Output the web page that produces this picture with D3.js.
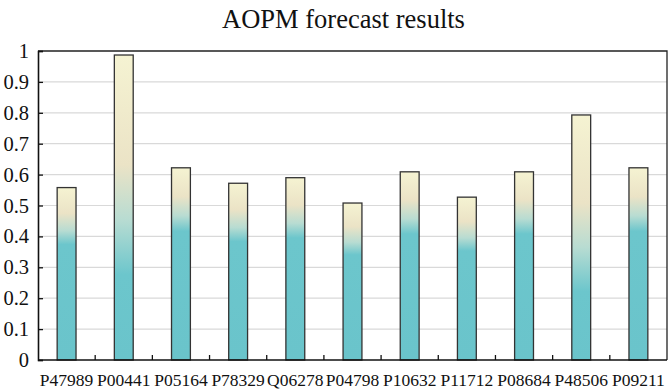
<!DOCTYPE html>
<html>
<head>
<meta charset="utf-8">
<script src="https://cdn.jsdelivr.net/npm/d3@7"></script>
<style>
  body { margin: 0; background: #fff; }
  text { font-family: "Liberation Serif", "Times New Roman", serif; }
</style>
</head>
<body>
<div id="chart-area"></div>
<script>
// chart data
const proteins = ["P47989", "P00441", "P05164", "P78329", "Q06278", "P04798",
                  "P10632", "P11712", "P08684", "P48506", "P09211"];
const forecastValues = [0.558, 0.987, 0.622, 0.572, 0.590, 0.508,
                        0.609, 0.527, 0.609, 0.793, 0.622];
const yTicks = [0, 0.1, 0.2, 0.3, 0.4, 0.5, 0.6, 0.7, 0.8, 0.9, 1];
const chartTitle = "AOPM forecast results";

let margin = { top: 51, right: 4, bottom: 32, left: 38 };
let width = 671 - margin.left - margin.right,
    height = 392 - margin.top - margin.bottom;

let svg = d3.select("#chart-area").append("svg")
    .attr("width", 671)
    .attr("height", 392);

// gradients - short bars switch colour near the top, tall ones lower down
let defs = svg.append("defs");
function addGradient(id, creamEnd, midAt, tealStart) {
    let g = defs.append("linearGradient")
        .attr("id", id)
        .attr("x1", 0).attr("y1", 0)
        .attr("x2", 0).attr("y2", 1);
    g.append("stop").attr("offset", 0).attr("stop-color", "#f5f3d2");
    g.append("stop").attr("offset", creamEnd).attr("stop-color", "#ebe3c6");
    g.append("stop").attr("offset", midAt).attr("stop-color", "#b8dcd2");
    g.append("stop").attr("offset", tealStart).attr("stop-color", "#6cc6cc");
    g.append("stop").attr("offset", 1).attr("stop-color", "#6ac4cb");
}
addGradient("grad-short", 0.15, 0.25, 0.33);
addGradient("grad-tall", 0.36, 0.54, 0.72);

let chart = svg.append("g")
    .attr("transform", "translate(" + margin.left + "," + margin.top + ")");

let x = d3.scaleBand()
    .domain(proteins)
    .range([0, width])
    .paddingInner(0.67)
    .paddingOuter(0.335);

let y = d3.scaleLinear()
    .domain([0, 1])
    .range([height, 0]);

// gridlines
chart.append("g")
    .selectAll("line")
    .data(yTicks.filter(d => d > 0 && d < 1))
    .enter().append("line")
    .attr("x1", 0)
    .attr("x2", width)
    .attr("y1", d => y(d))
    .attr("y2", d => y(d))
    .attr("stroke", "#d9d9d9")
    .attr("stroke-width", 1.2);

// frame top / right
chart.append("path")
    .attr("d", "M0,0H" + width + "V" + height)
    .attr("fill", "none")
    .attr("stroke", "#222")
    .attr("stroke-width", 1.3);

// bars
chart.selectAll(".bar")
    .data(proteins.map((p, i) => ({ name: p, value: forecastValues[i] })))
    .enter().append("rect")
    .attr("class", "bar")
    .attr("x", d => x(d.name))
    .attr("y", d => y(d.value))
    .attr("width", x.bandwidth())
    .attr("height", d => height - y(d.value))
    .attr("fill", d => d.value > 0.7 ? "url(#grad-tall)" : "url(#grad-short)")
    .attr("stroke", "#333")
    .attr("stroke-width", 1.3);

// y axis
let yAxis = d3.axisLeft(y)
    .tickValues(yTicks)
    .tickSize(-5)
    .tickPadding(9)
    .tickFormat(d => d3.format("")(d));

let yG = chart.append("g").call(yAxis)
    .attr("font-family", "Liberation Serif");
yG.select(".domain").attr("stroke", "#111").attr("stroke-width", 1.6);
yG.selectAll(".tick line").attr("stroke", "#111").attr("stroke-width", 1.3);
yG.selectAll(".tick text")
    .style("font-size", "20.5px")
    .attr("fill", "#111");

// x axis - ticks sit between categories
let xG = chart.append("g")
    .attr("transform", "translate(0," + height + ")");

xG.append("line")
    .attr("x1", 0).attr("x2", width)
    .attr("stroke", "#111")
    .attr("stroke-width", 1.6);

let step = x.step();
xG.selectAll(".xtick")
    .data(proteins.slice(1))
    .enter().append("line")
    .attr("class", "xtick")
    .attr("x1", d => x(d) - (step - x.bandwidth()) / 2)
    .attr("x2", d => x(d) - (step - x.bandwidth()) / 2)
    .attr("y1", 0)
    .attr("y2", -5)
    .attr("stroke", "#111")
    .attr("stroke-width", 1.3);

xG.selectAll(".xlabel")
    .data(proteins)
    .enter().append("text")
    .attr("class", "xlabel")
    .attr("x", d => x(d) + x.bandwidth() / 2)
    .attr("y", 26)
    .attr("text-anchor", "middle")
    .style("font-size", "17.5px")
    .attr("fill", "#111")
    .text(d => d);

// title
svg.append("text")
    .attr("x", 671 / 2 + 8)
    .attr("y", 28)
    .attr("text-anchor", "middle")
    .style("font-size", "26.5px")
    .attr("fill", "#111")
    .text(chartTitle);
</script>
</body>
</html>
